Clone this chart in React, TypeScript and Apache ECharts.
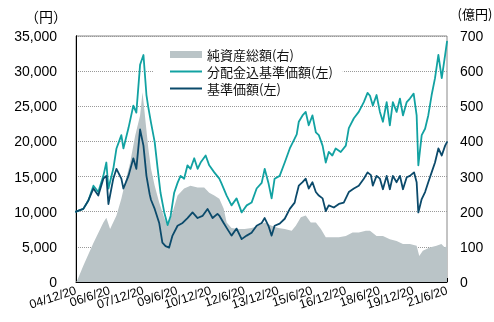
import { useEffect, useRef } from 'react';
import * as echarts from 'echarts';

// x: months since 2004/12/20
const xLabels = ['04/12/20', '06/6/20', '07/12/20', '09/6/20', '10/12/20', '12/6/20', '13/12/20', '15/6/20', '16/12/20', '18/6/20', '19/12/20', '21/6/20'];

const navMonths = [0, 3.9, 6.6, 9.3, 11.9, 14.6, 16.2, 17.3, 19.9, 21.6, 24.2, 25.3, 28.0, 30.6, 32.2, 34.2, 36.0, 37.6, 39.3, 40.0, 42.0, 44.4, 46.1, 47.8, 49.7, 51.5, 54.2, 56.9, 59.5, 62.2, 64.9, 67.5, 70.2, 72.9, 75.5, 76.6, 78.8, 80.4, 83.0, 85.7, 88.4, 91.1, 93.7, 96.4, 99.1, 100.7, 102.7, 104.4, 106.0, 108.7, 111.4, 114.1, 116.7, 117.3, 118.9, 120.9, 122.6, 124.2, 126.2, 128.0, 129.6, 131.6, 133.3, 134.9, 137.6, 140.3, 142.9, 145.6, 148.3, 150.9, 153.6, 155.6, 157.4, 158.4, 160.4, 162.2, 163.8, 165.8, 167.5, 169.1, 171.1, 172.9, 174.5, 176.5, 178.2, 180.4, 181.8, 182.7, 184.5, 186.3, 188.0, 189.8, 191.6, 193.4, 195.2, 197.0, 198];
const navValues = [10000, 10400, 11600, 13300, 12300, 14700, 15100, 11100, 14700, 16100, 14700, 13300, 15100, 17600, 16100, 21700, 19400, 15100, 12500, 11700, 10400, 8400, 5600, 5100, 4900, 6600, 8000, 8400, 9100, 9900, 9100, 9400, 10400, 9100, 9700, 9400, 8400, 7700, 6600, 7600, 6100, 6600, 7000, 8000, 8400, 9100, 8000, 6600, 8000, 8300, 9000, 10400, 11300, 12000, 13700, 14200, 14700, 13300, 14200, 12800, 12300, 11900, 10100, 10900, 10600, 11100, 11300, 12800, 13300, 13700, 14700, 15600, 15200, 13700, 15100, 14700, 13200, 15100, 13200, 15100, 14200, 15100, 13200, 14900, 15100, 15600, 14200, 9900, 11800, 12800, 14200, 15600, 17000, 19000, 18000, 19400, 19900];

const totalMonths = [0, 3.9, 6.6, 9.3, 11.9, 14.6, 16.2, 17.3, 19.9, 21.6, 24.2, 25.3, 28.0, 30.6, 32.2, 34.2, 36.0, 37.6, 38.5, 40.0, 42.0, 43.6, 45.1, 47.1, 48.9, 50.5, 52.4, 54.2, 55.8, 57.7, 59.5, 61.1, 63.1, 64.9, 66.5, 69.2, 71.1, 73.8, 76.5, 77.7, 80.4, 83.0, 85.7, 88.4, 91.1, 93.7, 96.4, 99.1, 100.7, 102.7, 104.4, 106.0, 108.7, 111.4, 114.1, 116.7, 117.8, 118.9, 120.9, 122.6, 124.2, 126.2, 128.0, 129.6, 131.6, 133.3, 134.9, 136.8, 138.6, 141.3, 144.0, 145.6, 148.3, 150.9, 153.6, 155.6, 156.9, 158.4, 160.4, 162.2, 163.8, 165.8, 167.5, 169.1, 171.1, 172.9, 174.5, 176.5, 178.2, 180.2, 181.8, 182.7, 184.5, 186.3, 188.0, 189.8, 191.6, 193.4, 195.2, 197.0, 198];
const totalValues = [10000, 10400, 11600, 13700, 12800, 15100, 17000, 13300, 16100, 19000, 20900, 19000, 21900, 25100, 24100, 30900, 32300, 26600, 25000, 22700, 19900, 16100, 12700, 9900, 8100, 9400, 12700, 14100, 15100, 14700, 16600, 16100, 17600, 16100, 17000, 18000, 16600, 15600, 14700, 14000, 12300, 10900, 11900, 9900, 10900, 11300, 13300, 14100, 16100, 14100, 11900, 14700, 15100, 17000, 19000, 20400, 21000, 22800, 23700, 24200, 22300, 23700, 21300, 20900, 19400, 17000, 18500, 18000, 19000, 18500, 19400, 21900, 23300, 24200, 25600, 26900, 26500, 25100, 26600, 24200, 22800, 25600, 22300, 25600, 24200, 26100, 23700, 25600, 26100, 26800, 23700, 16600, 20900, 21800, 23700, 26600, 29000, 32300, 29000, 32300, 34200];

const assetMonths = [0, 0.7, 3.9, 9.3, 14.6, 16.2, 18.2, 21.6, 24.2, 26.2, 28.9, 31.6, 34.2, 35.5, 38.6, 40.0, 42.0, 44.4, 47.1, 48.9, 51.5, 54.2, 57.7, 61.1, 64.9, 68.4, 71.1, 73.8, 76.5, 78.8, 80.4, 83.0, 86.6, 90.0, 93.7, 97.3, 100.7, 104.4, 108.0, 111.4, 115.1, 117.3, 120.0, 122.6, 125.3, 128.0, 130.7, 133.3, 136.8, 140.3, 144.0, 147.6, 150.9, 154.7, 156.9, 160.4, 163.8, 167.5, 171.1, 174.5, 178.2, 181.8, 183.2, 185.1, 188.8, 192.4, 195.0, 196.8, 198];
const assetValues = [0, 5, 46, 111, 169, 183, 151, 189, 237, 283, 340, 417, 474, 540, 380, 323, 274, 226, 183, 160, 197, 246, 266, 274, 269, 269, 254, 246, 237, 209, 169, 154, 151, 151, 154, 160, 169, 160, 154, 151, 146, 160, 184, 189, 169, 169, 151, 127, 127, 127, 131, 141, 141, 146, 146, 131, 131, 122, 117, 108, 108, 103, 74, 89, 98, 103, 108, 98, 103];

const xTicks = { min: 0, max: 198, interval: 18 };
const leftTicks = { min: 0, max: 35000, interval: 5000 };
const rightTicks = { min: 0, max: 700, interval: 100 };

const GRAY = '#bac4c7';
const TEAL = '#12a2a2';
const NAVY = '#0b4a6b';
const JP = "'Noto Sans CJK JP', sans-serif";
const LAT = "'Liberation Sans', Arial, sans-serif";
const LINE_ICON = 'path://M0,0L32,0L32,2L0,2Z';

const zip = (xs: number[], ys: number[]) => xs.map((x, i) => [x, ys[i]]);

const lineSeries = (name: string, axis: number, xs: number[], ys: number[], color: string, z: number, area: boolean) => ({
  name,
  type: 'line',
  xAxisIndex: 0,
  yAxisIndex: axis,
  symbol: 'none',
  showSymbol: false,
  emphasis: { disabled: true },
  data: zip(xs, ys),
  lineStyle: { width: area ? 0 : 1.8, color, join: 'round', cap: 'round' },
  itemStyle: { color },
  areaStyle: area ? { color, opacity: 1 } : undefined,
  z,
});

// labels split over two stacked axes (even / odd ticks) so none are auto-hidden
const labelAxis = (parity: number, main: boolean) => ({
  type: 'value',
  position: 'bottom',
  ...xTicks,
  splitLine: { show: false },
  axisLine: { show: main, lineStyle: { color: '#000', width: 1 } },
  axisTick: { show: main, inside: true, length: 4, lineStyle: { color: '#000' } },
  axisLabel: {
    rotate: 18,
    fontSize: 12.5,
    color: '#000',
    margin: 8,
    fontFamily: LAT,
    showMinLabel: true,
    showMaxLabel: true,
    formatter: (v: number) => {
      const i = Math.round(v / 18);
      return i % 2 === parity ? xLabels[i] ?? '' : '';
    },
  },
});

export default function App() {
  const ref = useRef<HTMLDivElement>(null);
  useEffect(() => {
    const chart = echarts.init(ref.current!, null, { renderer: 'svg' });
    chart.setOption({
      animation: false,
      grid: { left: 76, right: 47, top: 36, bottom: 40, show: true, borderColor: '#888', borderWidth: 1 },
      legend: {
        orient: 'vertical',
        left: 153,
        top: 44,
        padding: [4, 10, 5, 17],
        backgroundColor: '#fff',
        itemWidth: 32,
        itemHeight: 7,
        itemGap: 4,
        textStyle: { fontSize: 13, color: '#111', fontFamily: JP },
        data: [
          { name: '純資産総額(右)', icon: 'rect', itemStyle: { color: GRAY } },
          { name: '分配金込基準価額(左)', icon: LINE_ICON, itemStyle: { color: TEAL } },
          { name: '基準価額(左)', icon: LINE_ICON, itemStyle: { color: NAVY } },
        ],
      },
      xAxis: [labelAxis(0, true), labelAxis(1, false)],
      yAxis: [
        {
          type: 'value',
          position: 'left',
          ...leftTicks,
          axisLine: { show: true, lineStyle: { color: '#000' } },
          axisTick: { show: false },
          splitLine: { show: true, lineStyle: { color: '#999', type: 'dotted', width: 1 } },
          axisLabel: { fontSize: 14, color: '#000', margin: 19, fontFamily: LAT, formatter: (v: number) => v.toLocaleString('en-US') },
        },
        {
          type: 'value',
          position: 'right',
          ...rightTicks,
          axisLine: { show: true, lineStyle: { color: '#000' } },
          axisTick: { show: false },
          splitLine: { show: false },
          axisLabel: { fontSize: 14, color: '#000', margin: 13, fontFamily: LAT },
        },
      ],
      graphic: [
        { type: 'text', x: 46, y: 16, style: { text: '（円）', fontSize: 14, fill: '#000', fontFamily: JP, align: 'center', verticalAlign: 'middle' } },
        { type: 'text', x: 475, y: 13, style: { text: '(億円)', fontSize: 13, fill: '#000', fontFamily: JP, align: 'center', verticalAlign: 'middle' } },
      ],
      series: [
        lineSeries('純資産総額(右)', 1, assetMonths, assetValues, GRAY, 1, true),
        lineSeries('分配金込基準価額(左)', 0, totalMonths, totalValues, TEAL, 2, false),
        lineSeries('基準価額(左)', 0, navMonths, navValues, NAVY, 3, false),
      ],
    });
    return () => chart.dispose();
  }, []);
  return <div ref={ref} style={{ position: 'fixed', left: 0, top: 0, width: 494, height: 322 }} />;
}
